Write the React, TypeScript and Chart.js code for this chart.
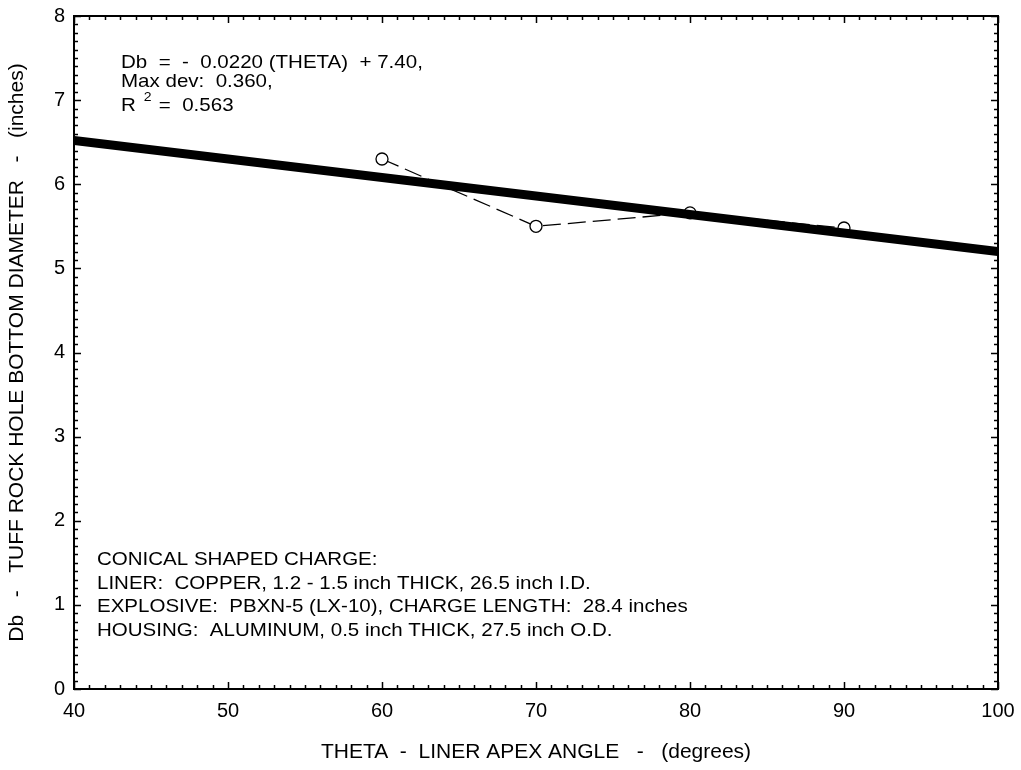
import React, { useEffect, useRef } from "react";
import { Chart, registerables } from "chart.js";

Chart.register(...registerables);

// ---- data ----
const thetaValues = [60, 70, 80, 90];
const diameterValues = [6.3, 5.5, 5.66, 5.48];
const fitTheta = [40, 100];
const fitDiameter = [6.52, 5.2];

const xMin = 40;
const xMax = 100;
const yMin = 0;
const yMax = 8;

const xTitle = "THETA  -  LINER APEX ANGLE   -   (degrees)";
const yTitle = "Db   -   TUFF ROCK HOLE BOTTOM DIAMETER   -   (inches)";

const equationLines = ["Db  =  -  0.0220 (THETA)  + 7.40,", "Max dev:  0.360,"];
const rSquaredBase = "R";
const rSquaredSup = "2";
const rSquaredValue = "=  0.563";

const chargeLines = [
  "CONICAL SHAPED CHARGE:",
  "LINER:  COPPER, 1.2 - 1.5 inch THICK, 26.5 inch I.D.",
  "EXPLOSIVE:  PBXN-5 (LX-10), CHARGE LENGTH:  28.4 inches",
  "HOUSING:  ALUMINUM, 0.5 inch THICK, 27.5 inch O.D.",
];

const FONT = '"Liberation Sans", Arial, Helvetica, sans-serif';
const STRETCH = 1.08;

function wideText(ctx: any, text: string, x: number, y: number, size: number) {
  ctx.save();
  ctx.font = `${size}px ${FONT}`;
  ctx.translate(x, y);
  ctx.scale(STRETCH, 1);
  ctx.fillText(text, 0, 0);
  const w = ctx.measureText(text).width * STRETCH;
  ctx.restore();
  return w;
}

function zeroPadding(scale: any) {
  scale.paddingTop = 0;
  scale.paddingBottom = 0;
  scale.paddingLeft = 0;
  scale.paddingRight = 0;
}

const framePlugin = {
  id: "frameAndNotes",
  beforeDatasetsDraw(chart: any) {
    const { ctx, chartArea } = chart;
    const xs = chart.scales.x;
    const ys = chart.scales.y;
    const { left, right, top, bottom } = chartArea;
    ctx.save();
    ctx.strokeStyle = "#000";
    ctx.lineWidth = 2;
    ctx.strokeRect(left, top, right - left, bottom - top);
    ctx.lineWidth = 1.5;
    ctx.beginPath();
    for (let i = 0; i <= xMax - xMin; i++) {
      const v = xMin + i;
      const px = Math.round(xs.getPixelForValue(v)) + 0.5;
      const len = v % 10 === 0 ? 7 : 4;
      ctx.moveTo(px, bottom);
      ctx.lineTo(px, bottom - len);
      ctx.moveTo(px, top);
      ctx.lineTo(px, top + len);
    }
    for (let i = 0; i <= (yMax - yMin) * 10; i++) {
      const v = yMin + i / 10;
      const py = Math.round(ys.getPixelForValue(v)) + 0.5;
      const len = i % 10 === 0 ? 7 : 4;
      ctx.moveTo(left, py);
      ctx.lineTo(left + len, py);
      ctx.moveTo(right, py);
      ctx.lineTo(right - len, py);
    }
    ctx.stroke();
    ctx.restore();
  },
  afterDraw(chart: any) {
    const { ctx, chartArea } = chart;
    const { left, top } = chartArea;
    ctx.save();
    ctx.fillStyle = "#000";
    ctx.textBaseline = "alphabetic";
    ctx.textAlign = "left";
    const tx = left + 47;
    wideText(ctx, equationLines[0], tx, top + 52, 19);
    wideText(ctx, equationLines[1], tx, top + 71, 19);
    const rw = wideText(ctx, rSquaredBase, tx, top + 95, 19);
    wideText(ctx, rSquaredSup, tx + rw + 8, top + 85, 13);
    wideText(ctx, rSquaredValue, tx + rw + 23, top + 95, 19);

    const bx = left + 23;
    chargeLines.forEach((line, i) => {
      wideText(ctx, line, bx, top + 549 + i * 23.5, 19);
    });
    ctx.restore();
  },
};

export default function App() {
  const canvasRef = useRef<HTMLCanvasElement | null>(null);

  useEffect(() => {
    if (!canvasRef.current) return;
    const chart = new Chart(canvasRef.current, {
      type: "scatter",
      data: {
        datasets: [
          {
            label: "fit",
            data: fitTheta.map((t, i) => ({ x: t, y: fitDiameter[i] })),
            showLine: true,
            borderColor: "#000",
            borderWidth: 9,
            pointRadius: 0,
            borderCapStyle: "butt",
          },
          {
            label: "data",
            data: thetaValues.map((t, i) => ({ x: t, y: diameterValues[i] })),
            showLine: true,
            borderColor: "#000",
            borderWidth: 1.3,
            borderDash: [18, 7],
            pointRadius: 6,
            pointBorderWidth: 1.3,
            pointBorderColor: "#000",
            pointBackgroundColor: "#fff",
            pointStyle: "circle",
          },
        ],
      },
      options: {
        responsive: false,
        animation: false,
        devicePixelRatio: 1,
        layout: { padding: { top: 16, right: 23, left: 0, bottom: 0 } },
        plugins: {
          legend: { display: false },
          tooltip: { enabled: false },
        },
        scales: {
          x: {
            type: "linear",
            min: xMin,
            max: xMax,
            grid: { display: false, drawTicks: false, tickLength: 0 },
            border: { display: false },
            ticks: {
              stepSize: 10,
              color: "#000",
              padding: 10,
              maxRotation: 0,
              font: { family: FONT, size: 20 },
            },
            title: {
              display: true,
              text: xTitle,
              color: "#000",
              font: { family: FONT, size: 21 },
              padding: { top: 0, bottom: 5 },
            },
            afterFit(scale: any) {
              scale.height = 81;
              zeroPadding(scale);
            },
          },
          y: {
            type: "linear",
            min: yMin,
            max: yMax,
            grid: { display: false, drawTicks: false, tickLength: 0 },
            border: { display: false },
            ticks: {
              stepSize: 1,
              color: "#000",
              padding: 9,
              font: { family: FONT, size: 20 },
            },
            title: {
              display: true,
              text: yTitle,
              color: "#000",
              font: { family: FONT, size: 21 },
              padding: { top: 5, bottom: 0 },
            },
            afterFit(scale: any) {
              scale.width = 74;
              zeroPadding(scale);
            },
          },
        },
      },
      plugins: [framePlugin],
    });
    return () => chart.destroy();
  }, []);

  return (
    <div style={{ position: "fixed", left: 0, top: 0, width: 1021, height: 770, background: "#fff" }}>
      <canvas ref={canvasRef} width={1021} height={770} />
    </div>
  );
}
